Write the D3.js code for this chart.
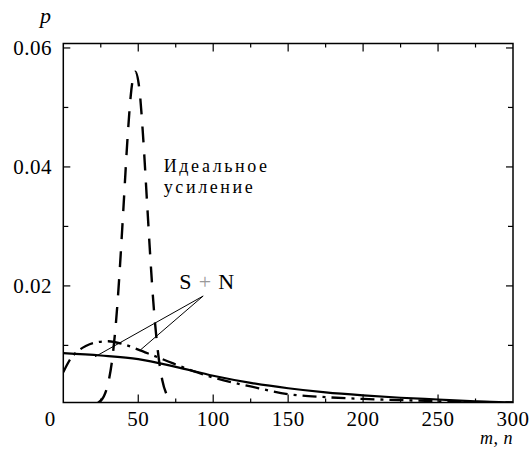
<!DOCTYPE html>
<html>
<head>
<meta charset="utf-8">
<script src="https://cdn.jsdelivr.net/npm/d3@7/dist/d3.min.js"></script>
<style>
	body { margin: 0; background: #fff; }
	svg { display: block; }
</style>
</head>
<body>
<svg id="chart"></svg>
<script>
const width = 532
const height = 450
const serif = "'Liberation Serif', 'DejaVu Serif', 'Times New Roman', serif"

// values
const xTickValues = [0, 50, 100, 150, 200, 250, 300]
const xMinorTicks = [25, 75, 125, 175, 225, 275]
const yTickValues = [0.02, 0.04, 0.06]
const yTickLabels = ["0.02", "0.04", "0.06"]
const yMinorTicks = [0.01, 0.03, 0.05]

// S + N, solid
const solidX = [0, 25, 50, 75, 100, 125, 150, 175, 200, 225, 250, 275, 300]
const solidP = [0.0087, 0.0083, 0.0077, 0.0064, 0.0049, 0.0037, 0.0028, 0.0021, 0.0016, 0.0012, 0.0009, 0.0006, 0.0004]

// S + N, dash-dot
const dashDotX = [0, 5, 10, 15, 20, 30, 40, 50, 60, 70, 80, 90, 100, 125, 150, 175, 200, 225, 250, 275, 300]
const dashDotP = [0.0055, 0.0078, 0.0091, 0.0099, 0.0104, 0.0107, 0.0102, 0.0093, 0.0083, 0.0073, 0.0063, 0.0054, 0.0046, 0.0031, 0.0018, 0.0013, 0.0010, 0.0008, 0.0006, 0.0005, 0.0004]

// ideal amplification, dashed
const idealX = [23, 27, 30, 33, 36, 38, 40, 43, 45, 48, 51, 53, 56, 58, 60, 63, 66, 69, 73]
const idealP = [0.0003, 0.0014, 0.0037, 0.0084, 0.0166, 0.0241, 0.0326, 0.0454, 0.0520, 0.0560, 0.0525, 0.0460, 0.0335, 0.0250, 0.0175, 0.0092, 0.0042, 0.0017, 0.0004]

// leader lines for "S + N": from label point to the two curves
const leaderFrom = { x: 93.3, p: 0.0183 }
const leaderTo = [{ x: 21.2, p: 0.0081 }, { x: 51.3, p: 0.0092 }]

const plot = { left: 63.3, right: 513, top: 43.5, bottom: 402.5 }

const x = d3.scaleLinear().domain([0, 300]).range([plot.left, plot.right])
const y = d3.scaleLinear().domain([0.0004, 0.06075]).range([plot.bottom, plot.top])

const svg = d3.select("#chart")
	.attr("width", width)
	.attr("height", height)
	.attr("font-family", serif)

svg.append("defs").append("clipPath")
	.attr("id", "clip")
	.append("rect")
	.attr("x", plot.left)
	.attr("y", plot.top)
	.attr("width", plot.right - plot.left)
	.attr("height", plot.bottom - plot.top)

function zip(xs, ps) {
	return xs.map((v, i) => ({ x: v, p: ps[i] }))
}

const line = d3.line()
	.x(d => x(d.x))
	.y(d => y(d.p))
	.curve(d3.curveMonotoneX)

const curves = svg.append("g").attr("clip-path", "url(#clip)")

curves.append("path")
	.datum(zip(solidX, solidP))
	.attr("d", line)
	.attr("fill", "none")
	.attr("stroke", "#000")
	.attr("stroke-width", 2.2)

curves.append("path")
	.datum(zip(dashDotX, dashDotP))
	.attr("d", line)
	.attr("fill", "none")
	.attr("stroke", "#000")
	.attr("stroke-width", 2.3)
	.attr("stroke-dasharray", "14,6,3,6")

curves.append("path")
	.datum(zip(idealX, idealP))
	.attr("d", line)
	.attr("fill", "none")
	.attr("stroke", "#000")
	.attr("stroke-width", 2.4)
	.attr("stroke-dasharray", "16,12")

// leader lines
svg.selectAll(".leader")
	.data(leaderTo)
	.enter().append("line")
	.attr("class", "leader")
	.attr("x1", x(leaderFrom.x))
	.attr("y1", y(leaderFrom.p))
	.attr("x2", d => x(d.x))
	.attr("y2", d => y(d.p))
	.attr("stroke", "#000")
	.attr("stroke-width", 1)

// frame
svg.append("rect")
	.attr("x", plot.left)
	.attr("y", plot.top)
	.attr("width", plot.right - plot.left)
	.attr("height", plot.bottom - plot.top)
	.attr("fill", "none")
	.attr("stroke", "#000")
	.attr("stroke-width", 1.5)

// inward ticks on all four sides
const major = 8
const minor = 4
const xTicksAll = xTickValues.map(v => ({ v, len: major })).concat(xMinorTicks.map(v => ({ v, len: minor })))
	.filter(d => d.v > 0 && d.v < 300)
const yTicksAll = yTickValues.map(v => ({ v, len: major - 1 })).concat(yMinorTicks.map(v => ({ v, len: minor + 1 })))

const ticks = svg.append("g").attr("stroke", "#000").attr("stroke-width", 1.2)
ticks.selectAll(".xb").data(xTicksAll).enter().append("line")
	.attr("x1", d => x(d.v)).attr("x2", d => x(d.v))
	.attr("y1", plot.bottom).attr("y2", d => plot.bottom - d.len)
ticks.selectAll(".xt").data(xTicksAll).enter().append("line")
	.attr("x1", d => x(d.v)).attr("x2", d => x(d.v))
	.attr("y1", plot.top).attr("y2", d => plot.top + d.len)
ticks.selectAll(".yl").data(yTicksAll).enter().append("line")
	.attr("y1", d => y(d.v)).attr("y2", d => y(d.v))
	.attr("x1", plot.left).attr("x2", d => plot.left + d.len)
ticks.selectAll(".yr").data(yTicksAll).enter().append("line")
	.attr("y1", d => y(d.v)).attr("y2", d => y(d.v))
	.attr("x1", plot.right).attr("x2", d => plot.right - d.len)

// tick labels
svg.selectAll(".xlabel")
	.data(xTickValues)
	.enter().append("text")
	.attr("class", "xlabel")
	.attr("x", d => d === 0 ? x(d) - 13 : x(d))
	.attr("y", 426)
	.attr("text-anchor", "middle")
	.attr("font-size", 21)
	.attr("letter-spacing", 0.5)
	.text(d => d)

svg.selectAll(".ylabel")
	.data(yTickValues)
	.enter().append("text")
	.attr("class", "ylabel")
	.attr("x", 52)
	.attr("y", d => y(d) + 7)
	.attr("text-anchor", "end")
	.attr("font-size", 21)
	.attr("letter-spacing", 0.5)
	.text((d, i) => yTickLabels[i])

// axis titles
svg.append("text")
	.attr("x", 40)
	.attr("y", 23)
	.attr("font-size", 22)
	.attr("font-style", "italic")
	.text("p")

svg.append("text")
	.attr("x", 480)
	.attr("y", 444)
	.attr("font-size", 18)
	.attr("font-style", "italic")
	.attr("letter-spacing", 0.5)
	.text("m, n")

// annotations
const note = svg.append("text")
	.attr("font-size", 18)
	.attr("letter-spacing", 2.6)
note.append("tspan").attr("x", x(67)).attr("y", y(0.0391)).text("Идеальное")
note.append("tspan").attr("x", x(67)).attr("y", y(0.0357)).text("усиление")

const sn = svg.append("text")
	.attr("x", x(77.4))
	.attr("y", y(0.0194))
	.attr("font-size", 22)
	.attr("letter-spacing", 0.8)
sn.append("tspan").text("S ")
sn.append("tspan").attr("fill", "#999").text("+")
sn.append("tspan").text(" N")
</script>
</body>
</html>
